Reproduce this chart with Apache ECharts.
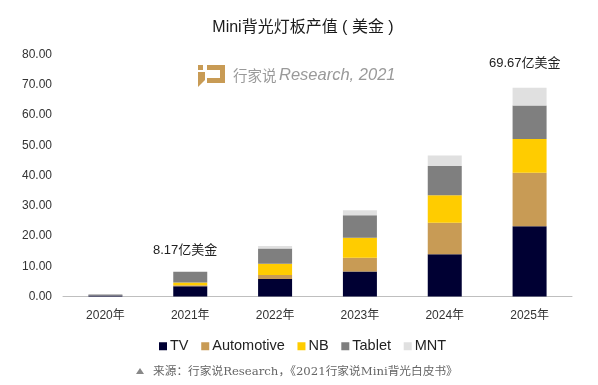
<!DOCTYPE html>
<html>
<head>
<meta charset="utf-8">
<style>
html, body { margin: 0; padding: 0; background: #fff; }
#chart { width: 598px; height: 385px; filter: blur(0.5px); }
</style>
<script src="https://cdn.jsdelivr.net/npm/echarts@6/dist/echarts.min.js"></script>
</head>
<body>
<div id="chart"></div>
<script>
var categories = ['2020年', '2021年', '2022年', '2023年', '2024年', '2025年'];
var tv = [0.3, 3.4, 5.8, 8.3, 14.0, 23.2];
var automotive = [0, 0.3, 1.3, 4.5, 10.4, 17.7];
var nb = [0, 0.9, 3.7, 6.6, 9.1, 11.2];
var tablet = [0.4, 3.6, 5.1, 7.5, 9.6, 11.0];
var mnt = [0, 0, 0.8, 1.6, 3.5, 5.9];
var seriesNames = ['TV', 'Automotive', 'NB', 'Tablet', 'MNT'];
var seriesColors = ['#000033', '#C89B55', '#FFCC00', '#7F7F7F', '#E0E0E0'];

var FONT = '"Liberation Sans", "Noto Sans CJK SC", sans-serif';
var my_chart = echarts.init(document.getElementById('chart'), null, { renderer: 'canvas' });

function make_series(name, data, i) {
    return {
        name: name,
        type: 'bar',
        stack: 'total',
        barWidth: 34,
        itemStyle: { color: seriesColors[i] },
        data: data,
        animation: false
    };
}

var option = {
    animation: false,
    textStyle: { fontFamily: FONT },
    title: {
        text: 'Mini背光灯板产值 ( 美金 )',
        left: 298,
        top: 15,
        textAlign: 'center',
        textStyle: { fontSize: 16, fontWeight: 'normal', color: '#1a1a1a', fontFamily: FONT }
    },
    grid: { left: 63, right: 26, top: 54.5, bottom: 88.5 },
    legend: {
        data: seriesNames,
        top: 334,
        left: 154,
        itemWidth: 8,
        itemHeight: 8,
        itemGap: 12.7,
        icon: 'rect',
        textStyle: { fontSize: 14.5, color: '#222', fontFamily: FONT, padding: [0, 0, 0, -2] }
    },
    xAxis: {
        type: 'category',
        data: categories,
        axisTick: { show: false },
        axisLine: { lineStyle: { color: '#BFBFBF', width: 1 } },
        axisLabel: { fontSize: 12, color: '#333', margin: 13, fontFamily: FONT }
    },
    yAxis: {
        type: 'value',
        min: 0,
        max: 80,
        interval: 10,
        axisLine: { show: false },
        axisTick: { show: false },
        splitLine: { show: false },
        axisLabel: {
            fontSize: 12,
            color: '#333',
            margin: 11,
            fontFamily: FONT,
            formatter: function (v) { return v.toFixed(2); }
        }
    },
    series: [
        make_series(seriesNames[0], tv, 0),
        make_series(seriesNames[1], automotive, 1),
        make_series(seriesNames[2], nb, 2),
        make_series(seriesNames[3], tablet, 3),
        make_series(seriesNames[4], mnt, 4)
    ],
    graphic: [
        // 标注
        { type: 'text', left: 153, top: 243.5, style: { text: '8.17亿美金', font: '13px ' + FONT, fill: '#222' } },
        { type: 'text', left: 489, top: 56.5, style: { text: '69.67亿美金', font: '13px ' + FONT, fill: '#222' } },
        // 水印
        { type: 'rect', left: 198, top: 65, shape: { width: 5, height: 5 }, style: { fill: '#C89B55' } },
        { type: 'polygon', shape: { points: [[198, 72], [205, 72], [205, 80], [198, 87]] }, style: { fill: '#C89B55' } },
        { type: 'rect', left: 207, top: 65, shape: { width: 18, height: 5 }, style: { fill: '#C89B55' } },
        { type: 'rect', left: 220, top: 65, shape: { width: 5, height: 18 }, style: { fill: '#C89B55' } },
        { type: 'rect', left: 207, top: 78, shape: { width: 18, height: 5 }, style: { fill: '#C89B55' } },
        { type: 'text', left: 233, top: 68, style: { text: '行家说', font: '14.5px "Noto Sans CJK SC"', fill: '#999' } },
        { type: 'text', left: 279, top: 67, style: { text: 'Research, 2021', font: 'italic 16.5px ' + FONT, fill: '#999' } },
        // 来源
        { type: 'polygon', shape: { points: [[136, 374], [140, 368], [144, 374]] }, style: { fill: '#888' } },
        { type: 'text', left: 153, top: 366, style: { text: '来源：行家说Research，《2021行家说Mini背光白皮书》', font: '11.7px "DejaVu Serif", "Noto Sans CJK SC"', fill: '#666' } }
    ]
};

my_chart.setOption(option);
</script>
</body>
</html>
